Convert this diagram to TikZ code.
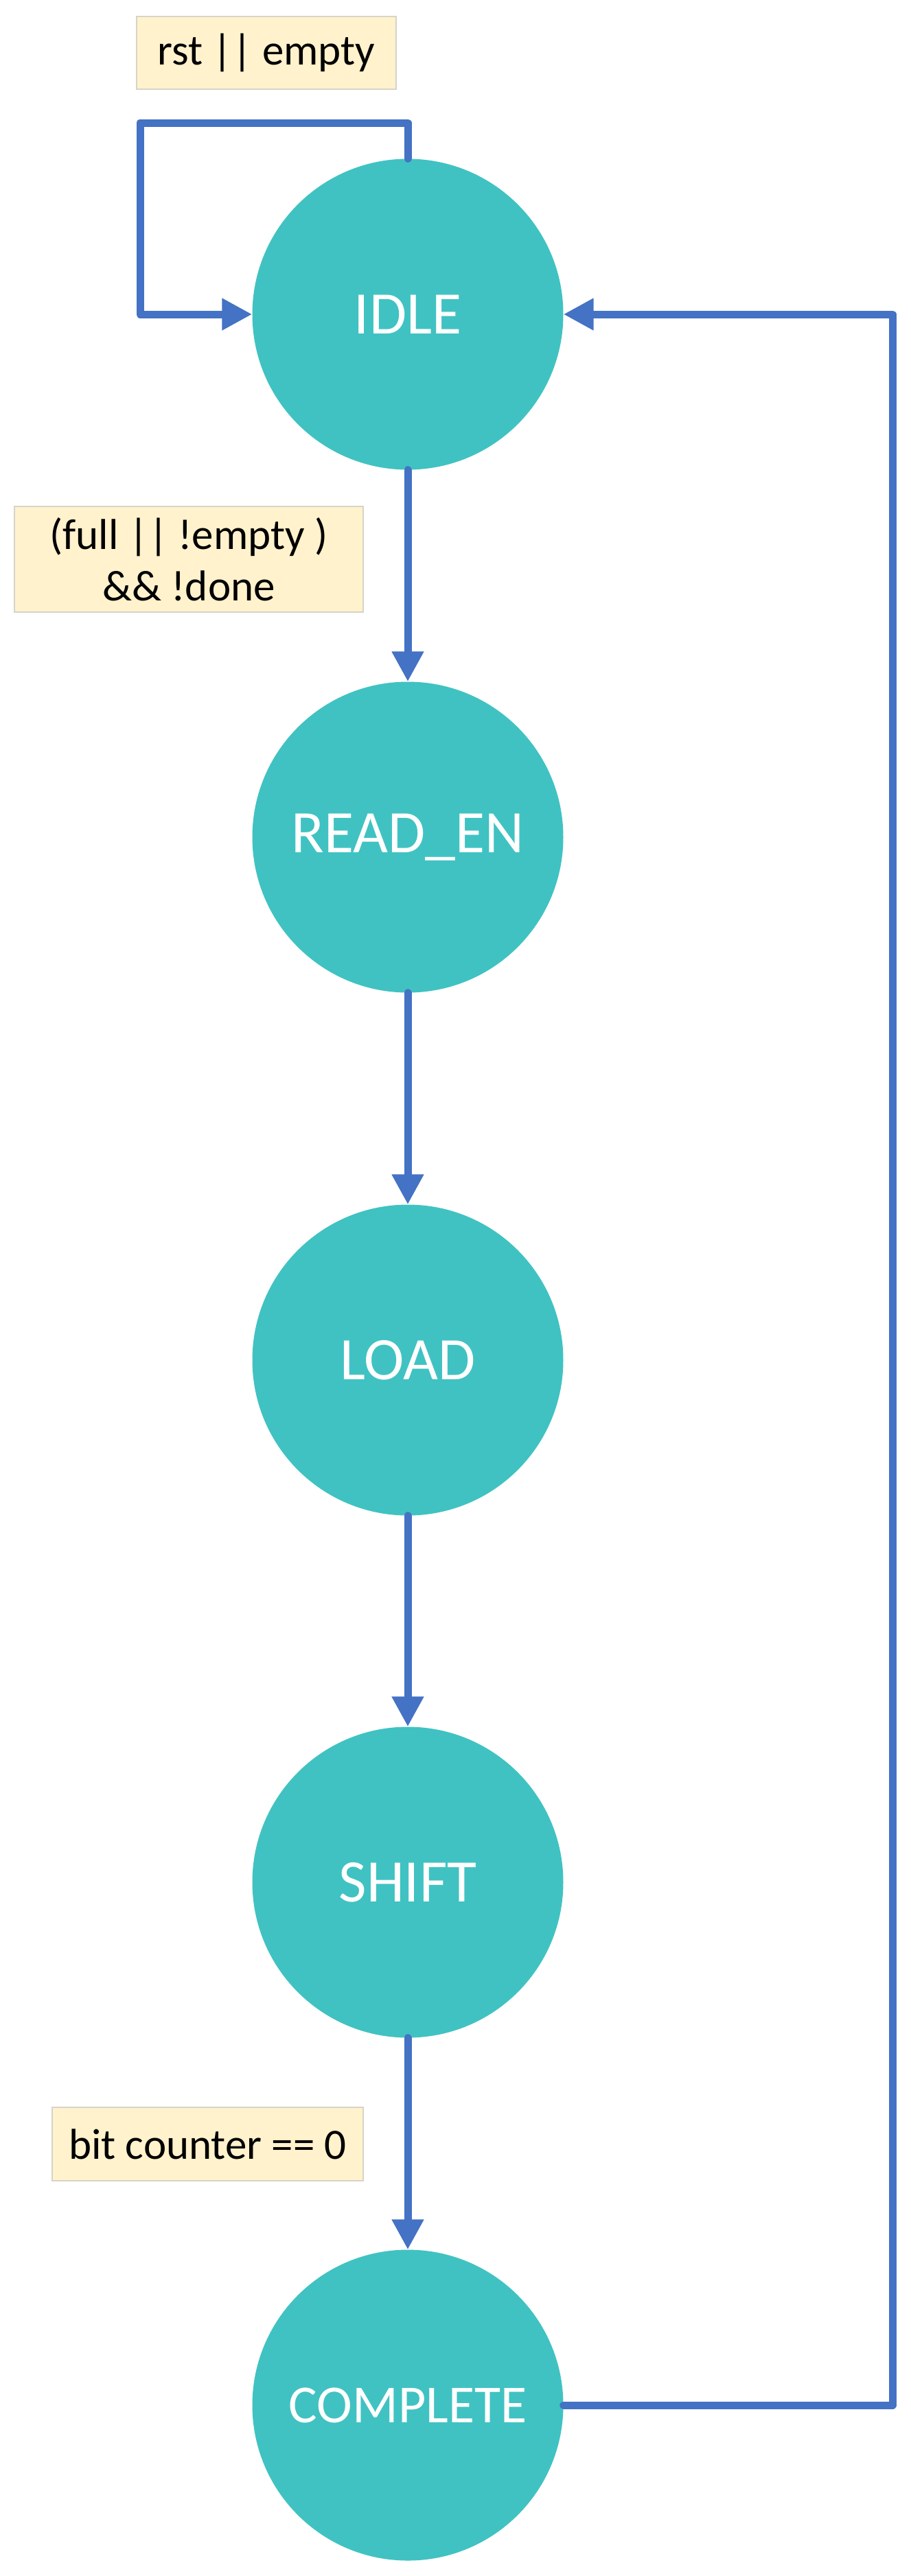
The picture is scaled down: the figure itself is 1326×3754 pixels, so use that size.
\documentclass[tikz,border=0pt]{standalone}
\usepackage{fontspec}
\setmainfont{Carlito}
\usetikzlibrary{arrows.meta}
\definecolor{stateteal}{RGB}{64,194,194}
\definecolor{arrowblue}{RGB}{68,114,196}
\definecolor{labelfill}{RGB}{255,242,204}
\definecolor{labeldraw}{RGB}{214,212,200}
\begin{document}
\begin{tikzpicture}[x=1pt,y=-1pt,
  state/.style={circle, fill=stateteal, inner sep=0pt, minimum size=453pt, text=white,
    font=\fontsize{88}{100}\selectfont},
  cond/.style={draw=labeldraw, line width=1.5pt, fill=labelfill, inner sep=0pt,
    font=\fontsize{63}{75}\selectfont, align=center},
  flow/.style={draw=arrowblue, line width=11pt, line cap=round, line join=round,
    -{Triangle[length=44pt,width=44pt]}}]
\useasboundingbox (0,0) rectangle (1326,3754);

\node[state] (idle) at (594,458) {IDLE};
\node[state] (readen) at (594,1220) {READ\_EN};
\node[state] (load) at (594,1982) {LOAD};
\node[state] (shift) at (594,2743) {SHIFT};
\node[state, font=\fontsize{78}{90}\selectfont] (complete) at (594,3505) {COMPLETE};

\node[cond, minimum width=378pt, minimum height=106pt] (c1) at (388,77) {rst || empty};
\node[cond, minimum width=508pt, minimum height=154pt] (c2) at (275,815) {(full || !empty )\\\&\& !done};
\node[cond, minimum width=453pt, minimum height=107pt] (c3) at (302.5,3124.5) {bit counter == 0};

\coordinate (lt) at (204,179);
\coordinate (rb) at (1300,3505);

\draw[flow] (idle.north) |- (lt) |- (idle.west);
\draw[flow] (idle.south) -- (readen.north);
\draw[flow] (readen.south) -- (load.north);
\draw[flow] (load.south) -- (shift.north);
\draw[flow] (shift.south) -- (complete.north);
\draw[flow] (complete.east) -- (rb) |- (idle.east);
\end{tikzpicture}
\end{document}
